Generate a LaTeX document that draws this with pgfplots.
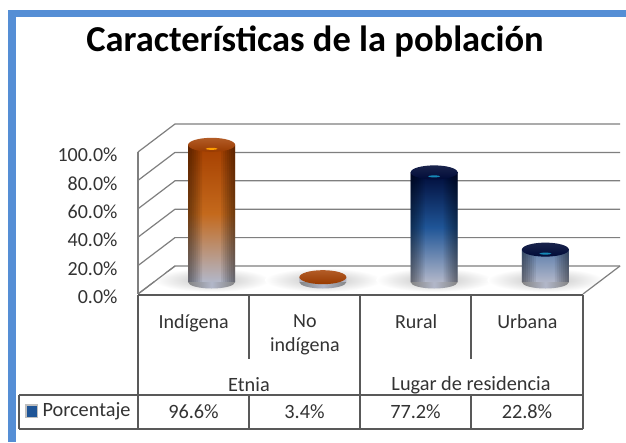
\documentclass[border=0pt]{standalone}
\usepackage{pgfplots}
\pgfplotsset{compat=1.18}
\usepackage{fontspec}
\setmainfont{Carlito}
\definecolor{frame}{HTML}{558ED5}
\definecolor{gridc}{HTML}{7F7F7F}
\definecolor{txt}{HTML}{333333}
\definecolor{otop}{HTML}{A53F00}
\definecolor{omid}{HTML}{C4691C}
\definecolor{btop}{HTML}{000B38}
\definecolor{bmid}{HTML}{1F5597}
\definecolor{cbot}{HTML}{B2B7C9}
\pgfdeclareplotmark{shadowm}{\path[draw=none,inner color=black!24,outer color=white] (0,0) ellipse (58pt and 12pt);}
\pgfdeclareplotmark{bottomm}{\path[draw=none,rotate=5,left color=black!48,right color=black!48,middle color=cbot] (-23.5pt,0pt) arc (180:360:23.5pt and 6.5pt) -- cycle;}
\pgfdeclareplotmark{otopm}{\path[draw=none,rotate=5,top color=otop!85!white,bottom color=otop!92!black] (0,0) ellipse (23.5pt and 7pt);}
\pgfdeclareplotmark{btopm}{\path[draw=none,rotate=5,top color=btop!90!white,bottom color=btop] (0,0) ellipse (23.5pt and 7pt);}
\pgfdeclareplotmark{ohl}{\path[draw=none,fill=orange!75!yellow] (0,0) ellipse (6pt and 1pt);}
\pgfdeclareplotmark{bhl}{\path[draw=none,fill=bmid!70!cyan] (0,0) ellipse (6pt and 1pt);}
\begin{document}
\begin{tikzpicture}
\path[use as bounding box] (0pt,0pt) rectangle (626pt,-442pt);
\begin{scope}[x=1pt,y=-1pt]
\fill[white] (0,0) rectangle (626,442);
\fill[frame] (8,10) rectangle (626,17);
\fill[frame] (8,10) rectangle (16,442);
\node[font=\fontsize{36.5}{40}\selectfont\bfseries, text=black] at (315,42) {Características de la población};
% walls
\foreach \yy in {152,180.4,208.8,237.2,265.6,294}{
  \draw[gridc, line width=1.2pt] (138,\yy) -- (175,\yy-28) -- (620,\yy-28);
}
\draw[gridc, line width=1.2pt] (138,294) -- (138,152);
\end{scope}
% floor shadows, in an axis of their own so that they lie under the bars
\begin{axis}[
  at={(138pt,-294pt)}, anchor=south west,
  scale only axis, width=445pt, height=142pt,
  xmin=0, xmax=4, ymin=0, ymax=100,
  clip=false, hide axis,
]
\addplot[only marks, xshift=18pt, yshift=14pt, mark=shadowm]
  coordinates {(0.5,0)(1.5,0)(2.5,0)(3.5,0)};
\end{axis}
\begin{axis}[
  at={(138pt,-294pt)}, anchor=south west,
  scale only axis, width=445pt, height=142pt,
  xmin=0, xmax=4, ymin=0, ymax=100,
  clip=false,
  axis line style={draw=none},
  major tick style={draw=none},
  ytick={0,20,40,60,80,100},
  yticklabels={0.0\%,20.0\%,40.0\%,60.0\%,80.0\%,100.0\%},
  yticklabel style={font=\fontsize{20}{22}\selectfont, text=txt, anchor=east, xshift=-17pt, yshift=-3pt},
  xtick={0.5,1.5,2.5,3.5},
  xticklabels={Indígena,No\\indígena,Rural,Urbana},
  xticklabel style={font=\fontsize{20}{24}\selectfont, text=txt, align=center, anchor=north, yshift=-17pt, text width=100pt},
  xtick pos=bottom,
]
% orange bars
\addplot[ybar, bar width=47pt, bar shift=0pt, xshift=18pt, yshift=12pt, draw=none,
  shade, shading=axis, top color=otop, bottom color=cbot, middle color=omid]
  coordinates {(0.5,96.6)(1.5,3.4)};
% blue bars
\addplot[ybar, bar width=47pt, bar shift=0pt, xshift=18pt, yshift=12pt, draw=none,
  shade, shading=axis, top color=btop, bottom color=cbot, middle color=bmid]
  coordinates {(2.5,77.2)(3.5,22.8)};
% edge darkening of the cylinders
\pgfplotsinvokeforeach{2,4,6,8,10,12,14}{
  \addplot[ybar, bar width=#1pt, bar shift={(23.5-#1/2)*1pt}, xshift=18pt, yshift=12pt, draw=none, fill=black, fill opacity=.07]
    coordinates {(0.5,96.6)(2.5,77.2)(3.5,22.8)};
  \addplot[ybar, bar width=#1pt, bar shift={(-23.5+#1/2)*1pt}, xshift=18pt, yshift=12pt, draw=none, fill=black, fill opacity=.07]
    coordinates {(0.5,96.6)(2.5,77.2)(3.5,22.8)};
}
% bottoms
\addplot[only marks, xshift=18pt, yshift=12pt, mark=bottomm]
  coordinates {(0.5,0)(1.5,0)(2.5,0)(3.5,0)};
% tops
\addplot[only marks, xshift=18pt, yshift=12pt, mark=otopm]
  coordinates {(0.5,96.6)(1.5,3.4)};
\addplot[only marks, xshift=18pt, yshift=12pt, mark=btopm]
  coordinates {(2.5,77.2)(3.5,22.8)};
% highlights
\addplot[only marks, xshift=18pt, yshift=8pt, mark=ohl]
  coordinates {(0.5,96.6)};
\addplot[only marks, xshift=18pt, yshift=8pt, mark=bhl]
  coordinates {(2.5,77.2)(3.5,22.8)};
\end{axis}
\begin{scope}[x=1pt,y=-1pt]
% floor edges
\draw[gridc, line width=1.2pt] (138,294) -- (175,266);
\draw[gridc, line width=1.2pt] (583,294) -- (620,266);
% table
\begin{scope}[draw=black!65, line width=1.2pt]
\draw (138,295) -- (583,295);
\draw (138,295) -- (138,429);
\draw (360,295) -- (360,429);
\draw (583,295) -- (583,429);
\draw (249,295) -- (249,359);
\draw (471,295) -- (471,359);
\draw (249,395) -- (249,429);
\draw (471,395) -- (471,429);
\draw (19,395) -- (583,395);
\draw (19,429) -- (583,429);
\draw (19,395) -- (19,429);
\end{scope}
\fill[black!25] (25,404) rectangle (38,418);
\fill[bmid] (26.5,405.5) rectangle (36.5,416.5);
\begin{scope}[every node/.style={font=\fontsize{20.3}{22}\selectfont, text=txt}]
\node at (86.5,411) {Porcentaje};
\node at (193.5,412) {96.6\%};
\node at (304.5,412) {3.4\%};
\node at (415.5,412) {77.2\%};
\node at (527,412) {22.8\%};
\node at (249,385) {Etnia};
\node at (471,385) {Lugar de residencia};
\end{scope}
\end{scope}
\end{tikzpicture}
\end{document}
